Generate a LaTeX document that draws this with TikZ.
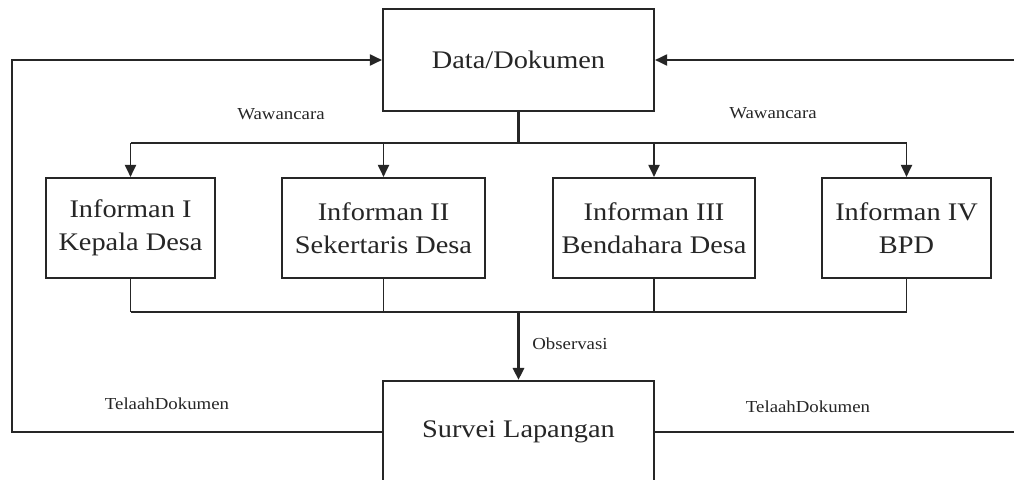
\documentclass[tikz,border=0pt]{standalone}
\usepackage{fontspec}
\setmainfont{Liberation Serif}[FakeStretch=1.12]
\usetikzlibrary{arrows.meta}
\definecolor{ink}{HTML}{262626}
\begin{document}
\begin{tikzpicture}[x=1pt,y=-1pt,
  line width=1.9pt, draw=ink, text=ink,
  box/.style={draw=ink, line width=2.1pt, rectangle, inner sep=0pt, align=center,
    font=\fontsize{25.3}{33}\selectfont},
  lbl/.style={font=\fontsize{16.8}{20}\selectfont, inner sep=0pt},
  arr/.style={-{Triangle[width=11pt,length=12pt]}},
  thick2/.style={line width=3pt}]
\useasboundingbox (0,0) rectangle (1014,479);
\fill[white] (0,0) rectangle (1014,479);
\clip (0,0) rectangle (1014,479);
% nodes
\node[box, minimum width=271pt, minimum height=102pt] (data) at (518.5,60) {Data/Dokumen};
\node[box, minimum width=169pt, minimum height=100pt] (b1) at (130.5,228) {Informan I\\Kepala Desa};
\node[box, minimum width=203pt, minimum height=100pt] (b2) at (383.5,228) {Informan II\\Sekertaris Desa};
\node[box, minimum width=202pt, minimum height=100pt] (b3) at (654,228) {Informan III\\Bendahara Desa};
\node[box, minimum width=169pt, minimum height=100pt] (b4) at (906.5,228) {Informan IV\\BPD};
\node[box, minimum width=271pt, minimum height=102pt] (surv) at (518.5,432) {Survei Lapangan};
% helper coordinates
\coordinate (tb) at (0,143);
\coordinate (bb) at (0,312);
\coordinate (lx) at (12,0);
\coordinate (rx) at (1030,0);
% top distribution
\draw[thick2] (data.south) -- (data.south |- tb);
\draw (b1.north |- tb) -- (b4.north |- tb);
\foreach \b in {b1,b2,b3,b4}{\draw[arr] (\b.north |- tb) -- (\b.north);}
% bottom collection
\foreach \b in {b1,b2,b3,b4}{\draw (\b.south) -- (\b.south |- bb);}
\draw (b1.south |- bb) -- (b4.south |- bb);
\draw[arr, thick2] (surv.north |- bb) -- (surv.north);
% loops
\draw[arr] (surv.west) -- (surv.west -| lx) |- (data.west);
\draw[arr] (surv.east) -- (surv.east -| rx) |- (data.east);
% labels
\node[lbl] (w1) at (281,114) {Wawancara};
\node[lbl] (w2) at (773,113) {Wawancara};
\node[lbl] (obs) at (570,344) {Observasi};
\node[lbl] (t1) at (167,404) {TelaahDokumen};
\node[lbl] (t2) at (808,407) {TelaahDokumen};
\end{tikzpicture}
\end{document}
